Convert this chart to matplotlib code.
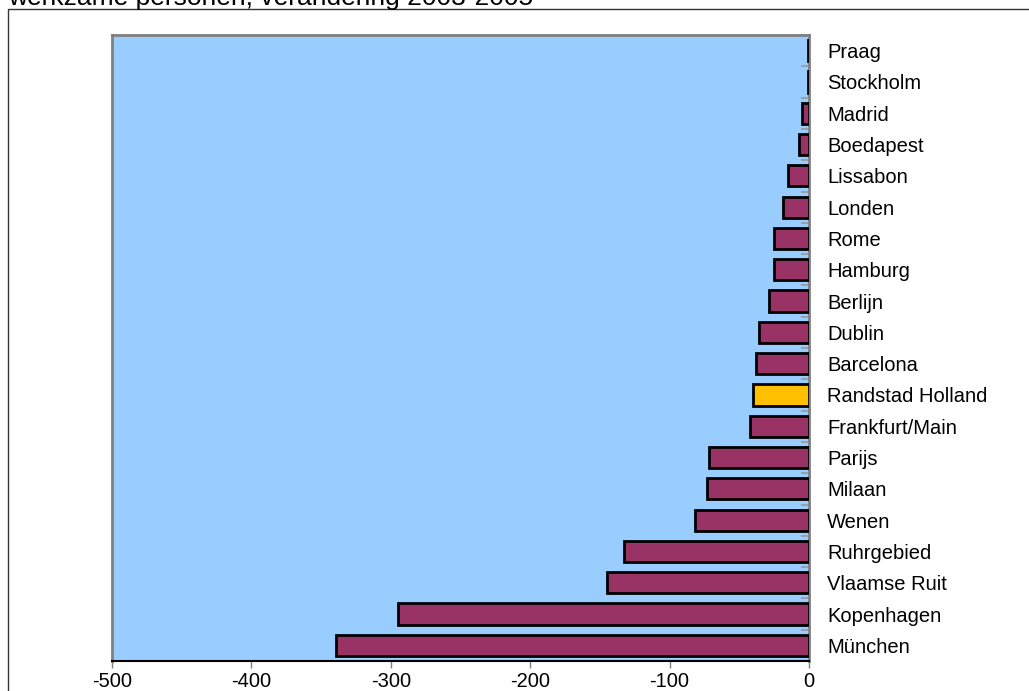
import matplotlib.pyplot as plt
import numpy as np
from matplotlib.patches import Rectangle
from matplotlib.ticker import FixedLocator, NullFormatter

plt.rcParams["font.family"] = ["Liberation Sans", "DejaVu Sans"]

# bottom to top
cities = [
    "München", "Kopenhagen", "Vlaamse Ruit", "Ruhrgebied", "Wenen", "Milaan",
    "Parijs", "Frankfurt/Main", "Randstad Holland", "Barcelona", "Dublin",
    "Berlijn", "Hamburg", "Rome", "Londen", "Lissabon", "Boedapest", "Madrid",
    "Stockholm", "Praag",
]
change = [
    -339, -295, -145, -133, -82, -73, -72, -42, -40, -38, -36,
    -29, -25, -25, -19, -15, -7, -5, -0.5, -1,
]
highlight = "Randstad Holland"
xticks = [-500, -400, -300, -200, -100, 0]

fig = plt.figure(figsize=(10.29, 6.91), dpi=100)
ax = fig.add_axes([112 / 1029, 1 - 661 / 691, 697 / 1029, 626 / 691])
ax.set_facecolor("#99CCFF")

y = np.arange(len(cities))
colors = ["#FFC000" if c == highlight else "#993366" for c in cities]
ax.barh(y, change, height=0.68, color=colors, edgecolor="black", linewidth=2, zorder=3)

ax.set_xlim(-500, 0)
ax.set_ylim(-0.5, len(cities) - 0.5)
ax.set_xticks(xticks, [str(v) for v in xticks])
ax.tick_params(axis="x", direction="out", length=5, width=1, color="#808080",
               labelsize=14.5, pad=3)

ax.yaxis.tick_right()
ax.yaxis.set_major_locator(FixedLocator(np.arange(len(cities) + 1) - 0.5))
ax.yaxis.set_major_formatter(NullFormatter())
ax.yaxis.set_minor_locator(FixedLocator(y))
ax.set_yticklabels(cities, minor=True)
ax.tick_params(axis="y", which="major", direction="in", length=6, width=1.2, color="#999999")
ax.tick_params(axis="y", which="minor", length=0, pad=13, labelsize=14.5)

for side in ["top", "left", "right"]:
    ax.spines[side].set_color("#808080")
    ax.spines[side].set_linewidth(2)
ax.spines["bottom"].set_color("black")
ax.spines["bottom"].set_linewidth(1.5)

# outer chart frame, partly off-canvas
fig.add_artist(Rectangle((8 / 1029, -0.2), 1.2, 1.2 - 9 / 691,
                         transform=fig.transFigure, fill=False,
                         edgecolor="#333333", linewidth=1))
# title is clipped by the top edge, as in the source image
fig.text(8 / 1029, 1 - 5 / 691, "werkzame personen, verandering 2003-2005",
         fontsize=19, ha="left", va="baseline")

fig.savefig("out.png", dpi=100, facecolor="white")
